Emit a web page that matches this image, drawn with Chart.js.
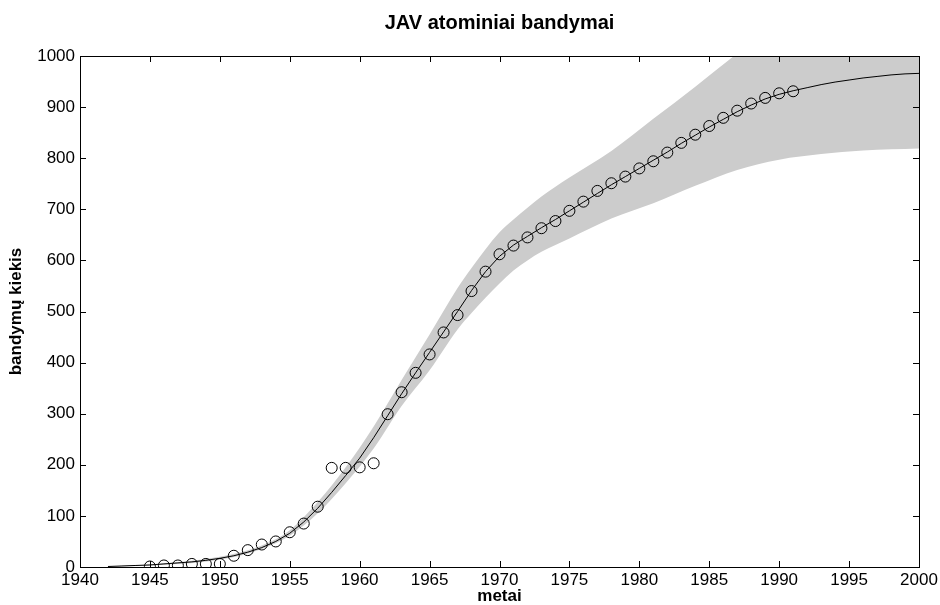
<!DOCTYPE html>
<html>
<head>
<meta charset="utf-8">
<script src="https://cdn.jsdelivr.net/npm/chart.js@4/dist/chart.umd.min.js"></script>
<style>
  body { margin: 0; background: #fff; }
  #wrap { width: 940px; height: 605px; }
</style>
</head>
<body>
<div id="wrap"><canvas id="myChart" width="940" height="605"></canvas></div>
<script>
// measured tests per year (cumulative)
const testYears = [1945, 1946, 1947, 1948, 1949, 1950, 1951, 1952, 1953, 1954,
  1955, 1956, 1957, 1958, 1959, 1960, 1961, 1962, 1963, 1964,
  1965, 1966, 1967, 1968, 1969, 1970, 1971, 1972, 1973, 1974,
  1975, 1976, 1977, 1978, 1979, 1980, 1981, 1982, 1983, 1984,
  1985, 1986, 1987, 1988, 1989, 1990, 1991]
const testCounts = [1, 3, 3, 6, 6, 6, 22, 33, 44, 50,
  68, 85, 118, 194, 194, 195, 203, 299, 342, 380,
  416, 459, 493, 540, 578, 612, 629, 645, 663, 677,
  697, 715, 736, 751, 764, 780, 794, 811, 830, 846,
  863, 879, 893, 907, 918, 927, 931]

// fitted curve
const fitYears = [1942, 1943, 1944, 1945, 1946, 1947, 1948, 1949, 1950, 1951,
  1952, 1953, 1954, 1955, 1956, 1957, 1958, 1959, 1960, 1961,
  1962, 1963, 1964, 1965, 1966, 1967, 1968, 1969, 1970, 1971,
  1972, 1973, 1974, 1975, 1976, 1977, 1978, 1979, 1980, 1981,
  1982, 1983, 1984, 1985, 1986, 1987, 1988, 1989, 1990, 1991,
  1992, 1993, 1994, 1995, 1996, 1997, 1998, 1999, 2000]
const fitValues = [1, 2, 3, 4, 6, 8, 10, 13, 17, 22,
  29, 38, 50, 66, 88, 115, 146, 179, 213, 253,
  296, 339, 380, 420, 460, 500, 541, 578, 608, 630,
  647, 664, 680, 697, 714, 731, 748, 764, 780, 796,
  812, 829, 845, 861, 876, 891, 904, 916, 925, 932,
  938, 944, 949, 953, 957, 960, 963, 965, 966]

// confidence band
const bandYears = [1942, 1945, 1950, 1953, 1955, 1957, 1959, 1961, 1963, 1965, 1967, 1968,
  1969, 1970, 1971, 1972, 1973, 1975, 1978, 1981, 1984, 1987, 1990, 1993, 1996, 2000]
const bandLower = [0.5, 3, 14, 35, 61, 105, 164, 232, 315, 385, 465, 497,
  527, 555, 580, 600, 617, 643, 682, 712, 746, 777, 797, 808, 815, 819]
const bandUpper = [1.5, 5, 20, 42, 72, 127, 195, 275, 366, 455, 546, 585,
  622, 655, 680, 703, 725, 762, 814, 877, 940, 1005, 1068, 1125, 1170, 1215]

const xTicks = [1940, 1945, 1950, 1955, 1960, 1965, 1970, 1975, 1980, 1985, 1990, 1995, 2000]
const yTicks = [0, 100, 200, 300, 400, 500, 600, 700, 800, 900, 1000]

const FONT = "'Liberation Sans', Arial, Helvetica, sans-serif"
Chart.defaults.font.family = FONT
Chart.defaults.color = '#000'

function pts(xs, ys) {
    return xs.map((x, i) => ({x: x, y: ys[i]}))
}

// box around the axes with inward tick marks on all four sides
const axesBox = {
    id: 'axesBox',
    afterDraw(chart) {
        const {ctx, chartArea: {left, right, top, bottom}} = chart
        const x = chart.scales.x, y = chart.scales.y
        const len = 6
        ctx.save()
        ctx.strokeStyle = '#000'
        ctx.lineWidth = 1
        ctx.beginPath()
        x.ticks.forEach(t => {
            const px = Math.round(x.getPixelForValue(t.value)) + 0.5
            ctx.moveTo(px, bottom); ctx.lineTo(px, bottom - len)
            ctx.moveTo(px, top); ctx.lineTo(px, top + len)
        })
        y.ticks.forEach(t => {
            const py = Math.round(y.getPixelForValue(t.value)) + 0.5
            ctx.moveTo(left, py); ctx.lineTo(left + len, py)
            ctx.moveTo(right, py); ctx.lineTo(right - len, py)
        })
        ctx.stroke()
        ctx.strokeRect(Math.round(left) + 0.5, Math.round(top) + 0.5,
            Math.round(right - left), Math.round(bottom - top))
        ctx.restore()
    }
}

function drawChart() {
    const ctx = document.getElementById('myChart')

    const data = {
        datasets: [
            {
                type: 'scatter',
                label: 'bandymai',
                data: pts(testYears, testCounts),
                showLine: false,
                pointStyle: 'circle',
                pointRadius: 5.5,
                pointBorderWidth: 1,
                pointBorderColor: '#000',
                pointBackgroundColor: 'rgba(0,0,0,0)',
            },
            {
                type: 'line',
                label: 'modelis',
                data: pts(fitYears, fitValues),
                borderColor: '#000',
                borderWidth: 1,
                pointRadius: 0,
                fill: false,
                tension: 0,
            },
            {
                type: 'line',
                label: 'viršutinė riba',
                data: pts(bandYears, bandUpper),
                borderWidth: 0,
                borderColor: 'rgba(0,0,0,0)',
                backgroundColor: '#cccccc',
                pointRadius: 0,
                cubicInterpolationMode: 'monotone',
                fill: '+1',
            },
            {
                type: 'line',
                label: 'apatinė riba',
                data: pts(bandYears, bandLower),
                borderWidth: 0,
                borderColor: 'rgba(0,0,0,0)',
                pointRadius: 0,
                cubicInterpolationMode: 'monotone',
                fill: false,
            }
        ]
    }

    const tickFont = {size: 17, lineHeight: 1}
    const noPad = s => { s.paddingLeft = 0; s.paddingRight = 0 }
    const config = {
        type: 'line',
        data: data,
        options: {
            responsive: false,
            animation: false,
            layout: {padding: 0},
            plugins: {
                legend: {display: false},
                tooltip: {enabled: false},
                filler: {drawTime: 'beforeDatasetsDraw'}
            },
            scales: {
                x: {
                    type: 'linear', position: 'bottom', min: 1940, max: 2000,
                    afterBuildTicks: s => { s.ticks = xTicks.map(v => ({value: v})) },
                    ticks: {font: tickFont, padding: 5, maxRotation: 0, autoSkip: false, callback: v => String(v)},
                    grid: {display: false, drawTicks: false}, border: {display: false},
                    title: {display: true, text: 'metai', font: {size: 17, weight: 'bold', lineHeight: 1}, padding: {top: 0, bottom: 0}},
                    afterFit: s => { s.height = 38; noPad(s) }
                },
                xTop: {
                    type: 'linear', position: 'top', min: 1940, max: 2000,
                    ticks: {display: false}, grid: {display: false, drawTicks: false}, border: {display: false},
                    title: {display: true, text: 'JAV atominiai bandymai', font: {size: 20, weight: 'bold', lineHeight: 1}, padding: {top: 13, bottom: 0}},
                    afterFit: s => { s.height = 56; noPad(s) }
                },
                y: {
                    type: 'linear', position: 'left', min: 0, max: 1000,
                    afterBuildTicks: s => { s.ticks = yTicks.map(v => ({value: v})) },
                    ticks: {font: tickFont, padding: 5, autoSkip: false, callback: v => String(v)},
                    grid: {display: false, drawTicks: false}, border: {display: false},
                    title: {display: true, text: 'bandymų kiekis', font: {size: 17, weight: 'bold', lineHeight: 1}, padding: {top: 8, bottom: 0}},
                    afterFit: s => { s.width = 80 }
                },
                yRight: {
                    type: 'linear', position: 'right', min: 0, max: 1000,
                    ticks: {display: false}, grid: {display: false, drawTicks: false}, border: {display: false},
                    afterFit: s => { s.width = 21 }
                }
            }
        },
        plugins: [axesBox]
    }

    new Chart(ctx, config)
}

document.addEventListener('DOMContentLoaded', drawChart)
</script>
</body>
</html>
